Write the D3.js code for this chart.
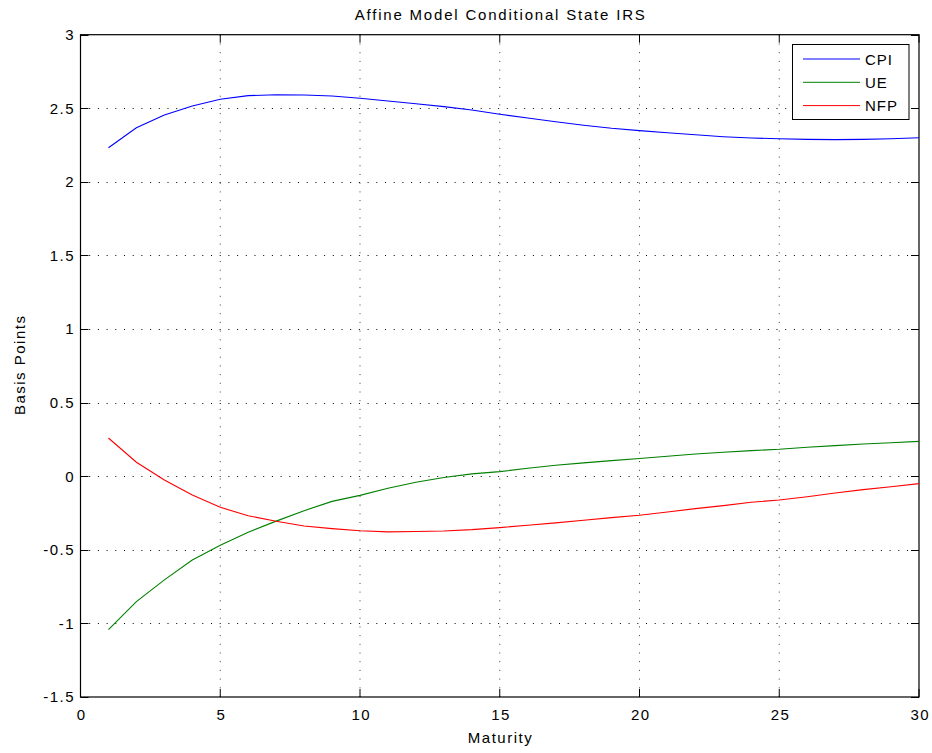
<!DOCTYPE html>
<html><head><meta charset="utf-8">
<script src="https://cdn.jsdelivr.net/npm/d3@7"></script>
<style>
body{margin:0;background:#fff;}
text{font-family:"Liberation Sans",Arial,sans-serif;fill:#000;}
</style></head>
<body>
<svg id="chart" width="932" height="753"></svg>
<script>
const maturities = d3.range(1, 31);
const cpi = [2.232,2.368,2.455,2.516,2.561,2.586,2.592,2.590,2.583,2.568,2.550,2.531,2.511,2.488,2.459,2.434,2.409,2.385,2.364,2.348,2.334,2.320,2.307,2.298,2.293,2.289,2.287,2.289,2.293,2.300];
const ue = [-1.042,-0.852,-0.704,-0.569,-0.469,-0.380,-0.305,-0.234,-0.171,-0.130,-0.082,-0.041,-0.009,0.016,0.031,0.054,0.075,0.091,0.106,0.120,0.136,0.151,0.163,0.174,0.183,0.197,0.208,0.219,0.228,0.237];
const nfp = [0.260,0.095,-0.025,-0.127,-0.211,-0.268,-0.306,-0.338,-0.356,-0.370,-0.378,-0.376,-0.372,-0.363,-0.349,-0.333,-0.317,-0.299,-0.281,-0.265,-0.243,-0.220,-0.200,-0.177,-0.161,-0.139,-0.114,-0.091,-0.071,-0.050];
const seriesNames = ["CPI","UE","NFP"];
const seriesColors = ["#0000ff","#008000","#ff0000"];
const xTicks = [0,5,10,15,20,25,30];
const yTicks = [-1.5,-1,-0.5,0,0.5,1,1.5,2,2.5,3];
const title = "Affine Model Conditional State IRS";
const xLabel = "Maturity";
const yLabel = "Basis Points";

const svg = d3.select("#chart");
const L = 80.5, R = 919, T = 34.7, B = 697;
const x = d3.scaleLinear().domain([0,30]).range([L,R]);
const y = d3.scaleLinear().domain([-1.5,3]).range([B,T]);
const FS = 15, LS = 1.5;

// grid
const g = svg.append("g");
xTicks.filter(v => v>0 && v<30).forEach(v => {
  g.append("line").attr("x1",x(v)).attr("x2",x(v)).attr("y1",B).attr("y2",T)
   .attr("stroke","#000").attr("stroke-width",1).attr("stroke-dasharray","1,7.7").attr("opacity",0.75);
});
yTicks.filter(v => v>-1.5 && v<3).forEach(v => {
  g.append("line").attr("x1",L).attr("x2",R).attr("y1",Math.round(y(v))+0.5).attr("y2",Math.round(y(v))+0.5)
   .attr("stroke","#000").attr("stroke-width",1).attr("stroke-dasharray","1,7.7");
});

// ticks inward (all four sides)
const tl = 8;
xTicks.forEach(v => {
  svg.append("line").attr("x1",x(v)).attr("x2",x(v)).attr("y1",B).attr("y2",B-tl).attr("stroke","#000");
  svg.append("line").attr("x1",x(v)).attr("x2",x(v)).attr("y1",T).attr("y2",T+tl).attr("stroke","#000");
});
yTicks.forEach(v => {
  const yy = Math.round(y(v))+0.5;
  svg.append("line").attr("x1",L).attr("x2",L+tl).attr("y1",yy).attr("y2",yy).attr("stroke","#000");
  svg.append("line").attr("x1",R).attr("x2",R-tl).attr("y1",yy).attr("y2",yy).attr("stroke","#000");
});

// tick labels via d3 axes
const xAxis = svg.append("g").attr("transform",`translate(0,${B})`)
  .call(d3.axisBottom(x).tickValues(xTicks).tickSize(0).tickPadding(12.3).tickFormat(d3.format("d")));
xAxis.select(".domain").remove();
xAxis.selectAll("text").attr("font-size",FS).attr("letter-spacing",LS).attr("dx",LS/2)
  .attr("font-family","Liberation Sans, Arial, sans-serif").attr("fill","#000");
const yAxis = svg.append("g").attr("transform",`translate(${L},0)`)
  .call(d3.axisLeft(y).tickValues(yTicks).tickSize(0).tickPadding(5.5).tickFormat(d => String(d)));
yAxis.select(".domain").remove();
yAxis.selectAll("text").attr("font-size",FS).attr("letter-spacing",LS)
  .attr("font-family","Liberation Sans, Arial, sans-serif").attr("fill","#000");

// box
svg.append("rect").attr("x",L).attr("y",T).attr("width",R-L).attr("height",B-T)
  .attr("fill","none").attr("stroke","#000").attr("stroke-width",1.2);

// lines
const allSeries = [cpi, ue, nfp];
const line = d3.line().x((d,i) => x(maturities[i])).y(d => y(d));
allSeries.forEach((s,k) => {
  svg.append("path").datum(s).attr("d",line).attr("fill","none")
    .attr("stroke",seriesColors[k]).attr("stroke-width",1.1);
});

// title & labels
svg.append("text").attr("x",(L+R)/2+0.9).attr("y",20).attr("text-anchor","middle").attr("font-size",FS)
  .attr("letter-spacing",1.8).text(title);
svg.append("text").attr("x",(L+R)/2+LS/2).attr("y",743).attr("text-anchor","middle").attr("font-size",FS).attr("letter-spacing",LS).text(xLabel);
svg.append("text").attr("transform",`translate(24.5,${(T+B)/2 - 1}) rotate(-90)`).attr("text-anchor","middle")
  .attr("font-size",FS).attr("letter-spacing",LS).text(yLabel);

// legend
const lg = svg.append("g");
lg.append("rect").attr("x",792.5).attr("y",44.5).attr("width",116.5).attr("height",75)
  .attr("fill","#fff").attr("stroke","#000").attr("stroke-width",1);
seriesNames.forEach((n,k) => {
  const yy = 59 + k*23.3;
  lg.append("line").attr("x1",803).attr("x2",860).attr("y1",yy).attr("y2",yy).attr("stroke",seriesColors[k]).attr("stroke-width",1);
  lg.append("text").attr("x",865).attr("y",yy+5.5).attr("font-size",FS).attr("letter-spacing",1).text(n);
});
</script>
</body></html>
